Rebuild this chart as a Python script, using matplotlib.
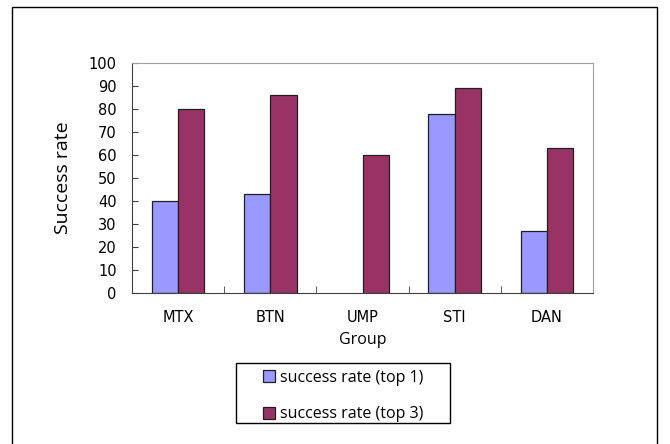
import matplotlib
matplotlib.use("Agg")
import matplotlib.pyplot as plt
import numpy as np
from matplotlib.patches import Rectangle

categories = ["MTX", "BTN", "UMP", "STI", "DAN"]
top1 = [40, 43, 0, 78, 27]
top3 = [80, 86, 60, 89, 63]
series_labels = ["success rate (top 1)", "success rate (top 3)"]
yticks = [0, 10, 20, 30, 40, 50, 60, 70, 80, 90, 100]

W, H = 670, 444
fig = plt.figure(figsize=(W/100, H/100), dpi=100)
fig.patch.set_facecolor("white")

# outer border
fig.add_artist(Rectangle((12/W, -0.05), (657-12)/W, 1.05 - 7/H, transform=fig.transFigure,
                         fill=False, edgecolor="black", linewidth=1.0))

ax = fig.add_axes([132/W, 1-293/H, (593-132)/W, (293-63)/H])
x = np.arange(len(categories))
bw = 0.285
b1 = ax.bar(x - bw/2, top1, bw, color="#9999FF", edgecolor="#202020", linewidth=0.9,
            label=series_labels[0])
b2 = ax.bar(x + bw/2, top3, bw, color="#993366", edgecolor="#202020", linewidth=0.9,
            label=series_labels[1])
for r, v in zip(b1, top1):
    if v == 0:
        r.set_visible(False)

ax.set_xlim(-0.5, len(categories) - 0.5)
ax.set_ylim(0, 100)
ax.set_yticks(yticks)
ax.set_yticklabels([str(v) for v in yticks], fontsize=10.5, family="DejaVu Sans")
ax.tick_params(axis="y", direction="in", length=4, color="#404040", pad=11)
ax.set_xticks(x)
ax.set_xticklabels(categories, fontsize=10.5, family="DejaVu Sans")
ax.tick_params(axis="x", length=0, pad=12)
ax.set_xticks(np.arange(len(categories) + 1) - 0.5, minor=True)
ax.tick_params(axis="x", which="minor", direction="in", length=5, color="#404040")

for s in ["left", "bottom"]:
    ax.spines[s].set_color("#404040")
for s in ["top", "right"]:
    ax.spines[s].set_color("#A0A0A0")

ax.set_ylabel("Success rate", fontsize=14, family="Open Sans", labelpad=12)
ax.set_xlabel("Group", fontsize=11.5, family="Open Sans", labelpad=5)

# legend box
fig.add_artist(Rectangle((236/W, 1-423/H), (450-236)/W, (423-363)/H, transform=fig.transFigure,
                         fill=False, edgecolor="black", linewidth=1.0))
leg = fig.legend(handles=[b1, b2], labels=series_labels, loc="center",
                 bbox_to_anchor=((236+450)/2/W, 1-(363+423+6)/2/H),
                 frameon=False,
                 prop={"family": "Open Sans", "size": 11.5},
                 handlelength=0.75, handleheight=0.75, handletextpad=0.35,
                 labelspacing=1.3, borderpad=0.3)

fig.savefig("out.png", dpi=100)
